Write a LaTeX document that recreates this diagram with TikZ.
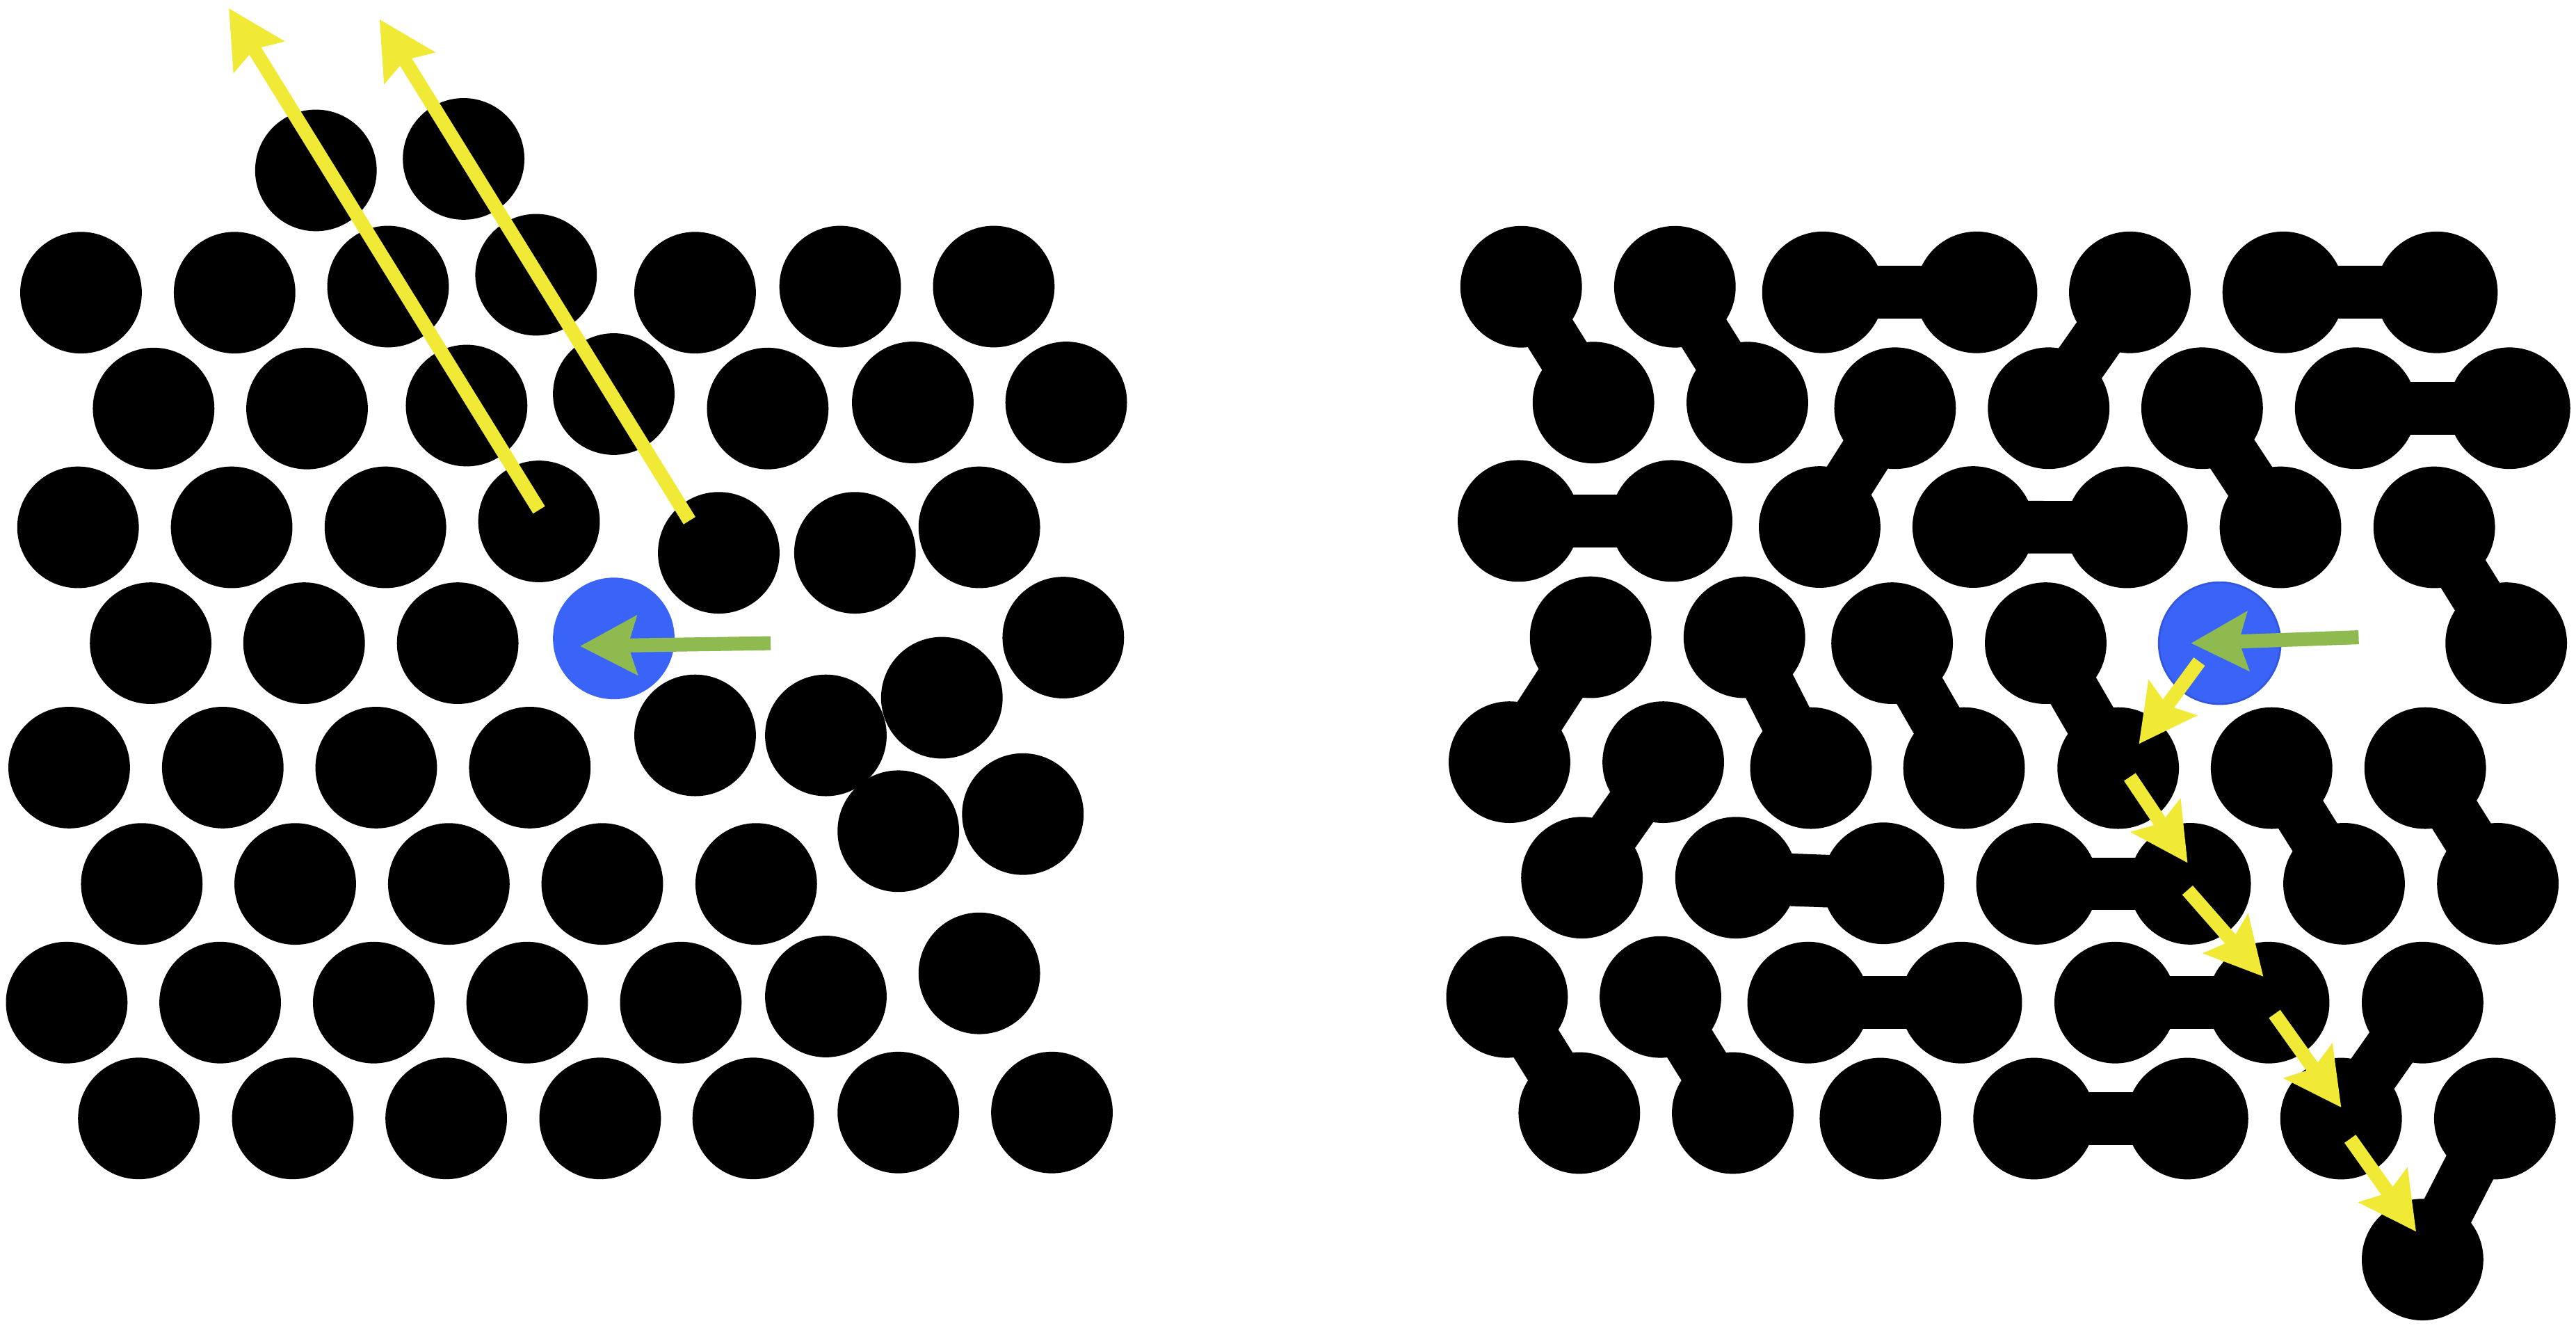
\documentclass[tikz,border=0pt]{standalone}
\usetikzlibrary{arrows.meta}
\definecolor{ballblue}{RGB}{58,100,248}
\definecolor{blueedge}{RGB}{50,86,222}
\definecolor{arrowyellow}{RGB}{240,234,54}
\definecolor{arrowgreen}{RGB}{143,186,80}
\begin{document}
\begin{tikzpicture}[x=1pt,y=-1pt,
  ball/.style={circle,fill=black,minimum size=74pt,inner sep=0pt,outer sep=0pt},
  blueball/.style={ball,fill=ballblue},
  bond/.style={line width=32pt,black},
  moveyellow/.style={draw=arrowyellow,line width=8.5pt,
    -{Stealth[length=35pt,width=37pt,inset=6pt,line width=0pt]}},
  movegreen/.style={moveyellow,draw=arrowgreen}]
\useasboundingbox (0,0) rectangle (1568,808);

% ---------- left panel ----------
\foreach \n/\x/\y in {
  la1/192.3/103.7, la2/282.2/96.7,
  lb1/49.3/178.1, lb2/142.8/178.1, lb3/236.2/174.4, lb4/326.3/167.2, lb5/423.1/178.1, lb6/511.4/174.4, lb7/604.9/174.4,
  lc1/93.5/248.6, lc2/186.9/248.6, lc3/284.0/246.8, lc4/373.6/239.8, lc5/467.3/248.6, lc6/555.6/244.9, lc7/649.0/244.9,
  ld1/47.5/320.9, ld2/141.0/320.9, ld3/234.6/320.9, ld4/328.1/317.3, ld5/437.5/336.4, ld6/520.4/336.4, ld7/596.1/320.9,
  le1/91.7/391.4, le2/185.1/391.4, le3/278.6/391.4, le5/647.2/388.0,
  lf1/42.1/467.1, lf2/135.6/467.1, lf3/229.0/467.1, lf4/322.5/467.1, lf5/423.1/447.5, lf6/502.7/447.5, lf7/573.3/424.6, lf8/622.6/495.4, lf9/546.8/505.8,
  lg1/86.3/537.9, lg2/179.7/537.9, lg3/273.2/537.9, lg4/366.6/537.9, lg5/460.3/537.9,
  lh1/40.6/610.1, lh2/134.0/610.1, lh3/227.5/610.1, lh4/320.9/610.1, lh5/414.4/610.1, lh6/502.7/606.4, lh7/596.1/592.3,
  li1/84.5/680.6, li2/178.2/680.6, li3/271.6/680.6, li4/365.3/680.6, li5/458.5/680.6, li6/546.8/677.0, li7/640.3/677.0}
  \node[ball] (\n) at (\x,\y) {};
\node[blueball] (lblue) at (373.6,388.5) {};

% ---------- right panel ----------
\foreach \n/\x/\y in {
  ra1/925.9/174.5, ra2/1019.5/174.5, ra3/1109.6/177.9, ra4/1203.1/177.9, ra5/1296.4/177.9, ra6/1389.8/177.9, ra7/1483.3/177.9,
  rb1/969.9/245.0, rb2/1063.6/245.0, rb3/1153.5/248.4, rb4/1247.0/248.4, rb5/1340.4/248.4, rb6/1433.9/248.4, rb7/1527.5/248.4,
  rc1/924.3/317.0, rc2/1017.5/317.0, rc3/1107.6/320.7, rc4/1201.1/320.7, rc5/1294.6/320.9, rc6/1388.1/320.9, rc7/1481.7/320.9,
  rd1/968.2/387.8, rd2/1061.8/387.8, rd3/1151.7/391.4, rd4/1245.2/391.4, rd6/1525.5/391.4,
  re1/918.8/463.8, re2/1012.4/463.8, re3/1102.3/467.4, re4/1195.5/467.4, re5/1289.3/467.4, re6/1382.7/467.4, re7/1476.2/467.4,
  rf1/962.9/534.1, rf2/1056.7/534.1, rf3/1146.4/537.5, rf4/1239.9/537.8, rf5/1333.1/537.8, rf6/1426.8/537.8, rf7/1520.4/537.8,
  rg1/917.3/606.7, rg2/1010.7/606.7, rg3/1100.6/610.1, rg4/1193.8/610.1, rg5/1287.5/610.1, rg6/1380.9/610.1, rg7/1474.6/610.1,
  rh1/961.3/677.3, rh2/1054.7/677.3, rh3/1144.6/680.7, rh4/1238.1/680.7, rh5/1331.5/680.7, rh6/1425.0/680.7, rh7/1518.6/680.7,
  ri1/1474.6/766.5}
  \node[ball] (\n) at (\x,\y) {};
\node[blueball,draw=blueedge,line width=1.2pt] (rblue) at (1351.1,391.4) {};

% bonds (dimers)
\foreach \a/\b in {ra1/rb1, ra2/rb2, ra3/ra4, ra5/rb4, ra6/ra7, rb3/rc3, rb5/rc6, rb6/rb7,
  rc1/rc2, rc4/rc5, rc7/rd6, rd1/re1, rd2/re3, rd3/re4, rd4/re5, re2/rf1, rf2/rf3,
  re6/rf6, re7/rf7, rf4/rf5, rg1/rh1, rg2/rh2, rg3/rg4, rg5/rg6, rg7/rh6, rh4/rh5, rh7/ri1}
  \draw[bond] (\a.center) -- (\b.center);

% ---------- arrows ----------
\coordinate (ly1s) at (328.1,310.3);  \coordinate (ly1e) at (139.4,5.2);
\coordinate (ly2s) at (419.7,316.8);  \coordinate (ly2e) at (231.1,11.9);
\coordinate (lgs)  at (469.1,391.4);  \coordinate (lge)  at (353.2,393.2);
\coordinate (rgs)  at (1435.7,387.8); \coordinate (rge)  at (1333.8,391.4);
\coordinate (ry1s) at (1338.7,402.6); \coordinate (ry1e) at (1302.0,452.6);
\coordinate (ry2s) at (1296.4,472.8); \coordinate (ry2e) at (1331.5,525.0);
\coordinate (ry3s) at (1331.5,541.7); \coordinate (ry3e) at (1377.6,594.2);
\coordinate (ry4s) at (1384.5,617.0); \coordinate (ry4e) at (1425.0,673.8);
\coordinate (ry5s) at (1430.5,693.0); \coordinate (ry5e) at (1470.6,749.4);

\draw[moveyellow] (ly1s) -- (ly1e);
\draw[moveyellow] (ly2s) -- (ly2e);
\draw[movegreen] (lgs) -- (lge);
\draw[movegreen] (rgs) -- (rge);
\draw[moveyellow] (ry1s) -- (ry1e);
\draw[moveyellow] (ry2s) -- (ry2e);
\draw[moveyellow] (ry3s) -- (ry3e);
\draw[moveyellow] (ry4s) -- (ry4e);
\draw[moveyellow] (ry5s) -- (ry5e);
\end{tikzpicture}
\end{document}
